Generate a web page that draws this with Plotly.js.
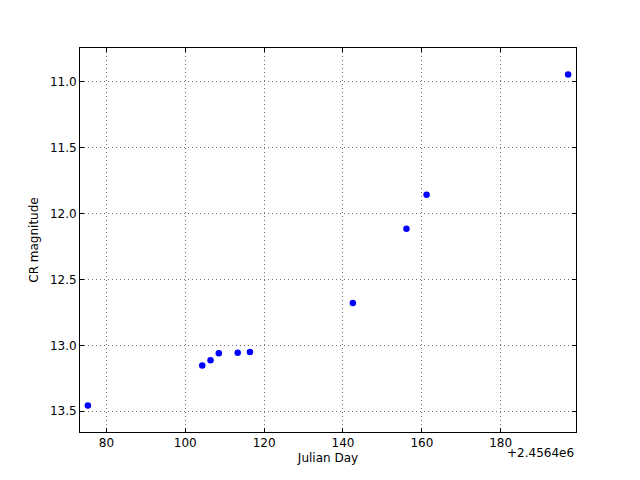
<!DOCTYPE html>
<html>
<head>
<meta charset="utf-8">
<script src="https://cdn.plot.ly/plotly-3.0.1.min.js"></script>
<style>html,body{margin:0;padding:0;background:#fff;}</style>
</head>
<body>
<div id="chart" style="width:640px;height:480px;"></div>
<script>
// Julian Day minus offset 2456400
const jdOffsetLabel = "+2.4564e6";
const julianDay = [75.3, 104.3, 106.4, 108.5, 113.3, 116.4, 142.5, 156.1, 161.2, 197.1];
const crMagnitude = [13.457, 13.154, 13.113, 13.061, 13.056, 13.051, 12.68, 12.117, 11.859, 10.947];
const xTicks = [80, 100, 120, 140, 160, 180];
const yTicks = [11.0, 11.5, 12.0, 12.5, 13.0, 13.5];

const pad = {x: 2, y: 0.2};
const xr = [Math.min(...julianDay) - pad.x, Math.max(...julianDay) + pad.x];
const yr = [Math.max(...crMagnitude) + pad.y, Math.min(...crMagnitude) - pad.y];

const font = {family: "DejaVu Sans", size: 12, color: "#000"};

const axisCommon = {
  showline: true, linecolor: "#000", linewidth: 1, mirror: "allticks",
  ticks: "inside", ticklen: 4, tickwidth: 1, tickcolor: "#000",
  showgrid: true, gridcolor: "#707070", griddash: "1px,3px", gridwidth: 1,
  zeroline: false, tickfont: font
};

Plotly.newPlot("chart", [{
  x: julianDay, y: crMagnitude, type: "scatter", mode: "markers",
  marker: {color: "#0000ff", size: 6.5, line: {color: "#0000ff", width: 0}},
  showlegend: false
}], {
  width: 640, height: 480,
  margin: {l: 80, r: 64, t: 48, b: 48},
  paper_bgcolor: "#fff", plot_bgcolor: "#fff",
  font: font,
  xaxis: Object.assign({}, axisCommon, {
    range: xr, tickvals: xTicks, ticktext: xTicks.map(String),
    title: {text: "Julian Day", font: font, standoff: 4}
  }),
  yaxis: Object.assign({}, axisCommon, {
    range: yr, tickvals: yTicks, ticktext: yTicks.map(v => v.toFixed(1)),
    title: {text: "CR magnitude", font: font, standoff: 8}
  }),
  annotations: [{
    text: jdOffsetLabel, xref: "paper", yref: "paper", x: 1, y: -0.055,
    xanchor: "right", yanchor: "middle", showarrow: false, font: font
  }]
}, {displayModeBar: false, staticPlot: true});
</script>
</body>
</html>
